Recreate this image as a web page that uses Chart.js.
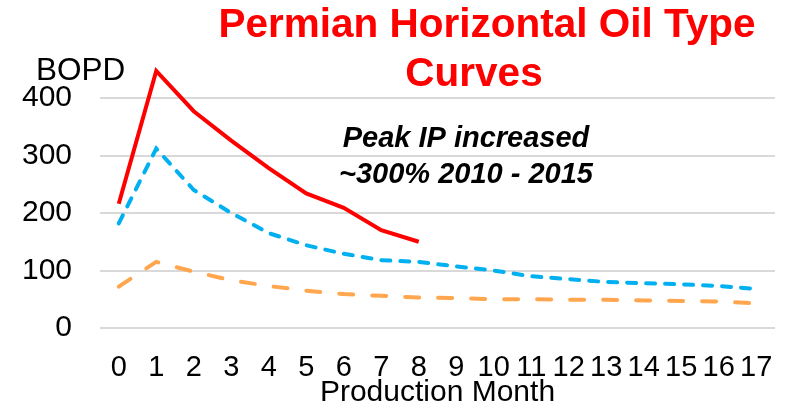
<!DOCTYPE html>
<html>
<head>
<meta charset="utf-8">
<script src="https://cdn.jsdelivr.net/npm/chart.js@4"></script>
<style>
  html, body { margin: 0; padding: 0; background: #fff; }
  #wrap { width: 787px; height: 409px; position: relative; }
</style>
</head>
<body>
<div id="wrap"><canvas id="grafico"></canvas></div>
<script>
// dados
const meses = ['0','1','2','3','4','5','6','7','8','9','10','11','12','13','14','15','16','17'];
const curva2015 = [216, 447, 377, 326, 278, 234, 209, 170, 150];
const curva2013 = [182, 312, 240, 200, 165, 144, 129, 118, 115, 107, 100, 90, 85, 80, 78, 76, 73, 68];
const curva2010 = [72, 115, 98, 83, 73, 65, 59, 56, 53, 52, 50, 50, 49, 49, 48, 47, 46, 43];
const ticksY = [0, 100, 200, 300, 400];

const fonte = '"Liberation Sans", Arial, sans-serif';

// textos soltos (titulo, BOPD, nota)
const textos = {
  id: 'textos',
  afterDraw(chart) {
    const c = chart.ctx;
    c.save();
    c.textBaseline = 'alphabetic';
    c.fillStyle = '#ff0000';
    c.font = 'bold 40.5px ' + fonte;
    c.textAlign = 'center';
    c.fillText('Permian Horizontal Oil Type', 487, 37);
    c.fillText('Curves', 474, 86);

    c.fillStyle = '#000';
    c.font = '31.5px ' + fonte;
    c.textAlign = 'left';
    c.fillText('BOPD', 36, 80);

    c.font = 'italic bold 29px ' + fonte;
    c.textAlign = 'center';
    c.fillText('Peak IP increased', 466, 147);
    c.fillText('~300% 2010 - 2015', 466, 183);
    c.restore();
  }
};

const ctx = document.getElementById('grafico').getContext('2d');
const chart = new Chart(ctx, {
  type: 'line',
  data: {
    labels: meses,
    datasets: [
      { label: '2015', data: curva2015, borderColor: '#ff0000', borderWidth: 4, clip: false },
      { label: '2013', data: curva2013, borderColor: '#00b0f0', borderWidth: 4,
        borderDash: [9, 10], borderCapStyle: 'round' },
      { label: '2010', data: curva2010, borderColor: '#ffa64f', borderWidth: 4,
        borderDash: [14, 19], borderCapStyle: 'round' }
    ]
  },
  options: {
    responsive: true,
    maintainAspectRatio: false,
    animation: false,
    layout: { padding: { top: 98, right: 12, left: 0, bottom: 0 } },
    elements: { point: { radius: 0 }, line: { tension: 0, borderJoinStyle: 'miter' } },
    plugins: { legend: { display: false }, tooltip: { enabled: false } },
    scales: {
      x: {
        offset: true,
        grid: { display: false, drawTicks: false },
        border: { display: false },
        ticks: { color: '#000', font: { family: fonte, size: 29 }, padding: 23,
                 autoSkip: false, maxRotation: 0 },
        title: { display: true, text: 'Production Month', color: '#000',
                 font: { family: fonte, size: 30, lineHeight: 1 }, padding: { top: 0, bottom: 1 } },
        afterFit: s => { s.height = 81; s.paddingLeft = 0; s.paddingRight = 0; }
      },
      y: {
        min: 0, max: 400,
        afterBuildTicks: s => { s.ticks = ticksY.map(v => ({ value: v })); },
        grid: { color: '#d9d9d9', lineWidth: 2, drawTicks: false },
        border: { display: false },
        ticks: { color: '#000', font: { family: fonte, size: 30 }, padding: 28 },
        afterFit: s => { s.width = 100; s.paddingTop = 0; s.paddingBottom = 0; }
      }
    }
  },
  plugins: [textos]
});
</script>
</body>
</html>
